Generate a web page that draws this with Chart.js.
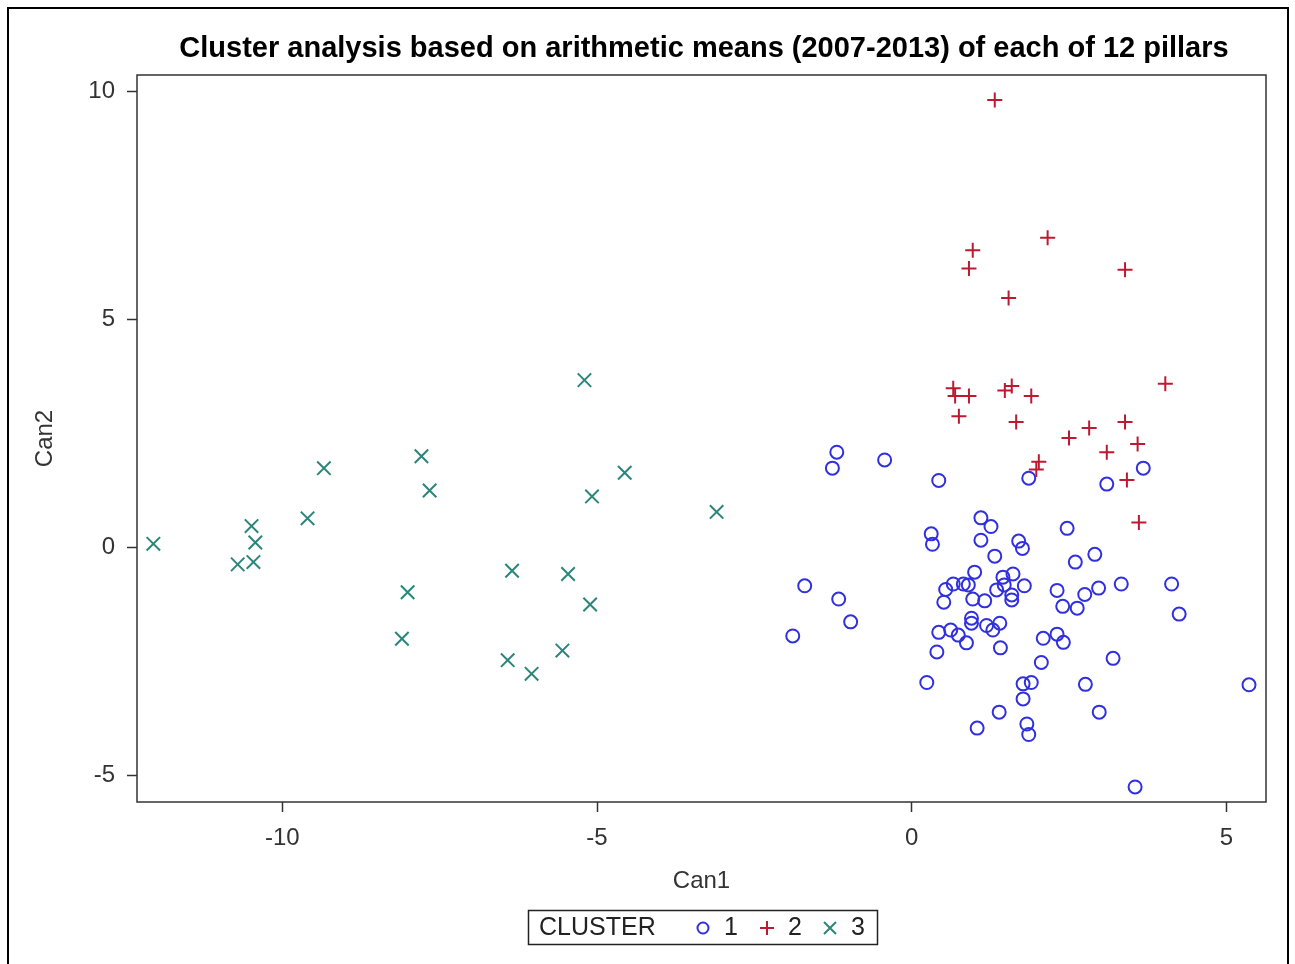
<!DOCTYPE html>
<html>
<head>
<meta charset="utf-8">
<title>Cluster analysis</title>
<script src="https://cdn.jsdelivr.net/npm/chart.js@4.4.0/dist/chart.umd.min.js"></script>
<style>
    html, body { margin: 0; padding: 0; background: #fff; }
    #wrap { width: 1295px; height: 964px; }
</style>
</head>
<body>
<div id="wrap"><canvas id="clusterChart" width="1295" height="964"></canvas></div>
<script>
// Canonical scores per country, grouped by cluster
const cluster1Can1 = [0.43, 1.86, 3.10, 3.68, 1.10, 1.26, 0.31, 0.33, 1.10, 1.70, 1.76, 2.47, 1.32, 2.60, 2.91,
    1.00, 1.61, 1.45, 1.79, 0.66, 0.82, 0.90, 0.54, 1.35, 1.47, 1.59, 1.59, 0.97, 1.16, 0.51, 2.31, 2.75, 2.97,
    3.33, 4.13, 4.25, 2.40, 2.63, 0.95, 0.95, 0.43, 0.62, 0.74, 0.87, 1.19, 1.29, 1.40, 1.41, 0.40, 2.09, 2.31,
    2.41, 2.06, 3.20, 0.24, 1.77, 1.90, 2.76, 1.77, 1.39, 2.98, 1.04, 1.83, 1.86, 3.55, -1.19, -1.26, -0.43,
    -1.70, -1.16, -0.97, -1.89, 5.36];
const cluster1Can2 = [1.47, 1.52, 1.39, 1.74, 0.65, 0.46, 0.30, 0.07, 0.16, 0.14, -0.02, 0.42, -0.19, -0.32, -0.15,
    -0.54, -0.58, -0.65, -0.84, -0.80, -0.80, -0.82, -0.92, -0.93, -0.82, -1.04, -1.15, -1.13, -1.17, -1.20, -0.94,
    -1.03, -0.89, -0.80, -0.80, -1.46, -1.29, -1.33, -1.55, -1.66, -1.86, -1.81, -1.92, -2.09, -1.71, -1.81, -1.66,
    -2.20, -2.29, -1.99, -1.90, -2.08, -2.52, -2.43, -2.96, -2.99, -2.96, -3.00, -3.32, -3.61, -3.61, -3.96, -3.87,
    -4.10, -5.25, 2.09, 1.74, 1.92, -0.84, -1.13, -1.63, -1.94, -3.01];

const cluster2Can1 = [1.32, 2.16, 0.97, 0.91, 3.39, 1.54, 0.66, 0.69, 0.91, 0.75, 1.48, 1.59, 1.90, 1.66, 4.03,
    2.50, 2.82, 3.39, 3.59, 3.10, 2.02, 1.98, 3.42, 3.61];
const cluster2Can2 = [9.81, 6.79, 6.52, 6.12, 6.09, 5.47, 3.49, 3.32, 3.32, 2.88, 3.44, 3.54, 3.32, 2.75, 3.59,
    2.40, 2.62, 2.75, 2.27, 2.09, 1.88, 1.71, 1.48, 0.55];

const cluster3Can1 = [-12.05, -10.49, -10.43, -10.71, -10.46, -9.60, -9.34, -7.79, -7.66, -8.01, -8.10, -5.20,
    -5.08, -4.56, -6.35, -5.46, -5.11, -6.42, -6.04, -5.55, -3.10];
const cluster3Can2 = [0.08, 0.47, 0.11, -0.37, -0.32, 0.64, 1.74, 2.00, 1.25, -0.98, -2.00, 3.67, 1.12, 1.64,
    -0.51, -0.58, -1.25, -2.47, -2.77, -2.26, 0.78];

const clusterLabels = ['1', '2', '3'];
const xTicks = [-10, -5, 0, 5];
const yTicks = [-5, 0, 5, 10];

const FONT = '"Liberation Sans", Arial, sans-serif';
const AXIS_COLOR = '#333';

function toPoints(xs, ys) {
    return xs.map((x, i) => ({ x: x, y: ys[i] }));
}

// draws one legend symbol by hand so it matches the plotted markers
function drawSymbol(ctx, style, color, x, y) {
    ctx.save();
    ctx.strokeStyle = color;
    ctx.lineWidth = 2;
    ctx.beginPath();
    if (style === 'circle') {
        ctx.arc(x, y, 5.5, 0, Math.PI * 2);
    } else if (style === 'cross') {
        ctx.moveTo(x - 7, y); ctx.lineTo(x + 7, y);
        ctx.moveTo(x, y - 7); ctx.lineTo(x, y + 7);
    } else {
        ctx.moveTo(x - 6, y - 6); ctx.lineTo(x + 6, y + 6);
        ctx.moveTo(x - 6, y + 6); ctx.lineTo(x + 6, y - 6);
    }
    ctx.stroke();
    ctx.restore();
}

const framePlugin = {
    id: 'frame',
    afterDraw(chart) {
        const ctx = chart.ctx;
        const a = chart.chartArea;
        ctx.save();

        // outer border of the graphic
        ctx.strokeStyle = '#000';
        ctx.lineWidth = 2;
        ctx.strokeRect(8, 8, 1280, 1000);

        // plot box
        ctx.strokeStyle = AXIS_COLOR;
        ctx.lineWidth = 1.5;
        ctx.strokeRect(a.left, a.top, a.right - a.left, a.bottom - a.top);

        // title
        ctx.fillStyle = '#000';
        ctx.font = 'bold 29px ' + FONT;
        ctx.textAlign = 'center';
        ctx.textBaseline = 'middle';
        ctx.fillText('Cluster analysis based on arithmetic means (2007-2013) of each of 12 pillars', 704, 49);

        // axis titles
        ctx.fillStyle = AXIS_COLOR;
        ctx.font = '24px ' + FONT;
        ctx.fillText('Can1', (a.left + a.right) / 2, 881);
        ctx.save();
        ctx.translate(45, (a.top + a.bottom) / 2);
        ctx.rotate(-Math.PI / 2);
        ctx.fillText('Can2', 0, 0);
        ctx.restore();

        // legend
        ctx.strokeStyle = '#222';
        ctx.lineWidth = 1.5;
        ctx.strokeRect(528.5, 910.5, 349, 34);
        ctx.fillStyle = '#222';
        ctx.font = '25px ' + FONT;
        ctx.textAlign = 'left';
        ctx.fillText('CLUSTER', 539, 928);
        const symX = [703, 767, 830];
        chart.data.datasets.forEach((ds, i) => {
            drawSymbol(ctx, ds.pointStyle, ds.borderColor, symX[i], 928);
            ctx.fillStyle = '#222';
            ctx.fillText(clusterLabels[i], symX[i] + 21, 928);
        });
        ctx.restore();
    }
};

const ctx = document.getElementById('clusterChart').getContext('2d');
new Chart(ctx, {
    type: 'scatter',
    data: {
        datasets: [{
            label: clusterLabels[0],
            data: toPoints(cluster1Can1, cluster1Can2),
            pointStyle: 'circle',
            pointRadius: 6.5,
            pointHoverRadius: 6.5,
            borderWidth: 2,
            borderColor: '#3030e0',
            backgroundColor: 'rgba(0,0,0,0)'
        }, {
            label: clusterLabels[1],
            data: toPoints(cluster2Can1, cluster2Can2),
            pointStyle: 'cross',
            pointRadius: 7.5,
            pointHoverRadius: 7.5,
            borderWidth: 2,
            borderColor: '#bd1a32',
            backgroundColor: 'rgba(0,0,0,0)'
        }, {
            label: clusterLabels[2],
            data: toPoints(cluster3Can1, cluster3Can2),
            pointStyle: 'crossRot',
            pointRadius: 9.5,
            pointHoverRadius: 9.5,
            borderWidth: 2,
            borderColor: '#2a857a',
            backgroundColor: 'rgba(0,0,0,0)'
        }]
    },
    options: {
        responsive: false,
        animation: false,
        devicePixelRatio: 1,
        layout: { padding: { top: 75, right: 29, bottom: 0, left: 0 } },
        plugins: {
            legend: { display: false },
            title: { display: false },
            tooltip: { enabled: false }
        },
        scales: {
            x: {
                type: 'linear',
                min: -12.31,
                max: 5.63,
                afterBuildTicks: axis => { axis.ticks = xTicks.map(v => ({ value: v })); },
                afterFit: axis => { axis.height = 162; },
                border: { display: false },
                grid: {
                    drawOnChartArea: false,
                    drawTicks: true,
                    tickLength: 10,
                    tickColor: AXIS_COLOR,
                    tickWidth: 1.5
                },
                ticks: {
                    color: AXIS_COLOR,
                    font: { family: FONT, size: 24 },
                    padding: 12,
                    maxRotation: 0
                }
            },
            y: {
                type: 'linear',
                min: -5.58,
                max: 10.36,
                afterBuildTicks: axis => { axis.ticks = yTicks.map(v => ({ value: v })); },
                afterFit: axis => { axis.width = 137; },
                border: { display: false },
                grid: {
                    drawOnChartArea: false,
                    drawTicks: true,
                    tickLength: 10,
                    tickColor: AXIS_COLOR,
                    tickWidth: 1.5
                },
                ticks: {
                    color: AXIS_COLOR,
                    font: { family: FONT, size: 24 },
                    padding: 12
                }
            }
        }
    },
    plugins: [framePlugin]
});
</script>
</body>
</html>
